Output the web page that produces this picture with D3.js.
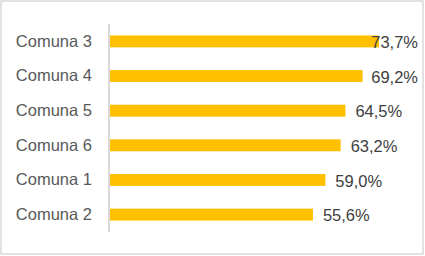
<!DOCTYPE html>
<html>
<head>
<meta charset="utf-8">
<script src="https://cdn.jsdelivr.net/npm/d3@7"></script>
<style>
  body { margin: 0; background: #fff; }
  svg { display: block; }
</style>
</head>
<body>
<svg id="chart"></svg>
<script>
// data, top to bottom as shown
const comunas = ["Comuna 3", "Comuna 4", "Comuna 5", "Comuna 6", "Comuna 1", "Comuna 2"];
const porcentajes = [73.7, 69.2, 64.5, 63.2, 59.0, 55.6];
const xMax = 80;

const width = 425, height = 256;
const svg = d3.select("#chart").attr("width", width).attr("height", height);

// outer chart frame
svg.append("rect")
    .attr("x", 1).attr("y", 1)
    .attr("width", 422).attr("height", 253)
    .attr("fill", "#fff")
    .attr("stroke", "#d9d9d9")
    .attr("stroke-width", 1.5);

const x = d3.scaleLinear().domain([0, xMax]).range([110, 402]);
const y = d3.scaleBand().domain(comunas).range([24, 232]).paddingInner(0.655).paddingOuter(0.33);

const font = "'Liberation Sans', Arial, sans-serif";

// bars
svg.append("g")
  .selectAll("rect")
  .data(comunas)
  .join("rect")
    .attr("x", x(0))
    .attr("y", d => y(d))
    .attr("width", (d, i) => x(porcentajes[i]) - x(0))
    .attr("height", y.bandwidth())
    .attr("fill", "#ffc000");

// category axis
const yAxis = svg.append("g")
    .attr("transform", `translate(${x(0) - 1},0)`)
    .call(d3.axisLeft(y).tickSize(0).tickPadding(17));
yAxis.select(".domain").attr("stroke", "#d9d9d9").attr("stroke-width", 2)
    .attr("d", "M0,24V232");
yAxis.selectAll("text")
    .attr("font-family", font)
    .attr("font-size", 16.5)
    .attr("fill", "#595959");

// value labels, kept inside the plot area like Excel does
const fmt = v => d3.format(".1f")(v).replace(".", ",") + "%";
svg.append("g")
  .selectAll("text")
  .data(comunas)
  .join("text")
    .attr("y", d => y(d) + y.bandwidth() / 2 + 1)
    .attr("dy", "0.35em")
    .attr("font-family", font)
    .attr("font-size", 16.5)
    .attr("fill", "#404040")
    .text((d, i) => fmt(porcentajes[i]))
    .attr("x", function(d, i) {
      const w = this.getComputedTextLength();
      return Math.min(x(porcentajes[i]) + 10, 418 - w);
    });
</script>
</body>
</html>
